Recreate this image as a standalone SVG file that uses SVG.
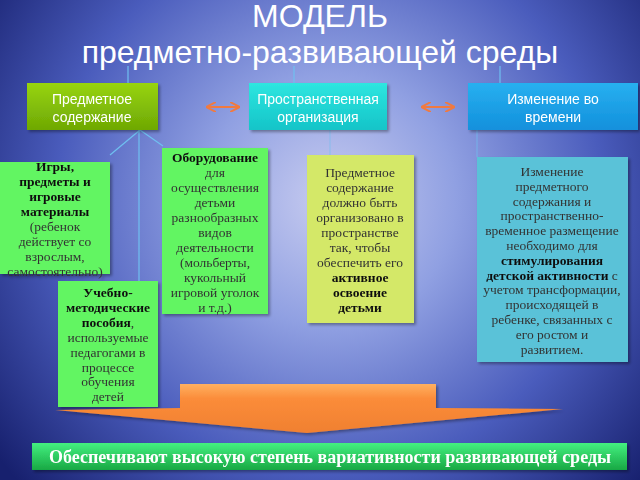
<svg xmlns="http://www.w3.org/2000/svg" width="640" height="480" viewBox="0 0 640 480">
<defs>
<radialGradient id="bg" cx="330" cy="200" r="420" gradientUnits="userSpaceOnUse">
<stop offset="0" stop-color="#c8ccf0"/>
<stop offset="0.3" stop-color="#90a0e2"/>
<stop offset="0.65" stop-color="#4a5cbc"/>
<stop offset="1" stop-color="#17206e"/>
</radialGradient>
<linearGradient id="g1" x1="0" y1="0" x2="0" y2="1"><stop offset="0" stop-color="#98d40e"/><stop offset="1" stop-color="#6ea804"/></linearGradient>
<linearGradient id="g2" x1="0" y1="0" x2="0" y2="1"><stop offset="0" stop-color="#2ee6e0"/><stop offset="1" stop-color="#14c4c8"/></linearGradient>
<linearGradient id="g3" x1="0" y1="0" x2="0" y2="1"><stop offset="0" stop-color="#28b0f0"/><stop offset="1" stop-color="#1290dc"/></linearGradient>
<linearGradient id="gb" x1="0" y1="0" x2="0" y2="1"><stop offset="0" stop-color="#44f080"/><stop offset="1" stop-color="#18a844"/></linearGradient>
<linearGradient id="go" x1="0" y1="0" x2="0" y2="1"><stop offset="0" stop-color="#ffb060"/><stop offset="0.3" stop-color="#fb8c3a"/><stop offset="1" stop-color="#f08030"/></linearGradient>
<filter id="sh" x="-10%" y="-10%" width="130%" height="130%"><feDropShadow dx="2" dy="2" stdDeviation="1.5" flood-color="#000" flood-opacity="0.35"/></filter>
<marker id="ah" viewBox="0 0 10 10" refX="9" refY="5" markerWidth="5" markerHeight="5" orient="auto-start-reverse"><path d="M0,0 L10,5 L0,10" fill="none" stroke="#f07a40" stroke-width="2"/></marker>
</defs>
<style>
.title{font-family:"Liberation Sans",Arial,sans-serif;fill:#fff;text-anchor:middle;}
.hd{font-family:"Liberation Sans",Arial,sans-serif;font-size:14px;fill:#fff;text-anchor:middle;}
.t{font-family:"Liberation Serif","Times New Roman",serif;font-size:13.5px;fill:#333;text-anchor:middle;}
.b{font-weight:bold;fill:#111;}
.ln{stroke:#6fc0f0;stroke-width:1.2;fill:none;}
.dbl{stroke:#f07a40;stroke-width:2;fill:none;}
</style>
<rect width="640" height="480" fill="url(#bg)"/>
<text class="title" x="320" y="27" font-size="32">МОДЕЛЬ</text>
<text class="title" x="320" y="63" font-size="32">предметно-развивающей среды</text>

<g id="connectors">
<line class="ln" x1="128" y1="66" x2="128" y2="83"/>
<line class="ln" x1="294" y1="66" x2="294" y2="83"/>
<line class="ln" x1="500" y1="66" x2="500" y2="83"/>
<line class="ln" x1="140" y1="130" x2="110" y2="155"/>
<line class="ln" x1="140" y1="130" x2="163" y2="146"/>
<line class="ln" x1="139" y1="130" x2="139" y2="281"/>
<line class="ln" x1="330" y1="130" x2="330" y2="155" opacity="0.5"/>
<line class="ln" x1="477" y1="130" x2="477" y2="157" opacity="0.6"/>
<line class="dbl" x1="207" y1="107" x2="239" y2="107" marker-start="url(#ah)" marker-end="url(#ah)"/>
<line class="dbl" x1="422" y1="107" x2="454" y2="107" marker-start="url(#ah)" marker-end="url(#ah)"/>
</g>

<g id="n1" filter="url(#sh)"><rect x="27" y="83" width="131" height="47" fill="url(#g1)"/>
<text class="hd" x="92" y="104">Предметное</text><text class="hd" x="92" y="122">содержание</text></g>
<g id="n2" filter="url(#sh)"><rect x="249" y="83" width="138" height="47" fill="url(#g2)"/>
<text class="hd" x="318" y="104">Пространственная</text><text class="hd" x="318" y="122">организация</text></g>
<g id="n3" filter="url(#sh)"><rect x="468" y="83" width="170" height="47" fill="url(#g3)"/>
<text class="hd" x="553" y="104">Изменение во</text><text class="hd" x="553" y="122">времени</text></g>

<g id="n4" filter="url(#sh)"><rect x="0" y="162" width="110" height="112" fill="#62f562"/>
<text class="t" x="55" y="171"><tspan class="b">Игры,</tspan><tspan class="b" x="55" dy="15">предметы и</tspan><tspan class="b" x="55" dy="15">игровые</tspan><tspan class="b" x="55" dy="15">материалы</tspan><tspan x="55" dy="15">(ребенок</tspan><tspan x="55" dy="15">действует со</tspan><tspan x="55" dy="15">взрослым,</tspan><tspan x="55" dy="15">самостоятельно)</tspan></text></g>

<g id="n5" filter="url(#sh)"><rect x="162" y="148" width="106" height="166" fill="#62f562"/>
<text class="t" x="215" y="162"><tspan class="b">Оборудование</tspan><tspan x="215" dy="15">для</tspan><tspan x="215" dy="15">осуществления</tspan><tspan x="215" dy="15">детьми</tspan><tspan x="215" dy="15">разнообразных</tspan><tspan x="215" dy="15">видов</tspan><tspan x="215" dy="15">деятельности</tspan><tspan x="215" dy="15">(мольберты,</tspan><tspan x="215" dy="15">кукольный</tspan><tspan x="215" dy="15">игровой уголок</tspan><tspan x="215" dy="15">и т.д.)</tspan></text></g>

<g id="n6" filter="url(#sh)"><rect x="58" y="281" width="100" height="126" fill="#62f562"/>
<text class="t" x="108" y="297"><tspan class="b">Учебно-</tspan><tspan class="b" x="108" dy="14.9">методические</tspan><tspan x="108" dy="14.9"><tspan class="b">пособия</tspan>,</tspan><tspan x="108" dy="14.9">используемые</tspan><tspan x="108" dy="14.9">педагогами в</tspan><tspan x="108" dy="14.9">процессе</tspan><tspan x="108" dy="14.9">обучения</tspan><tspan x="108" dy="14.9">детей</tspan></text></g>

<g id="n7" filter="url(#sh)"><rect x="307" y="155" width="107" height="168" fill="#d4e868"/>
<text class="t" x="360" y="177"><tspan>Предметное</tspan><tspan x="360" dy="15">содержание</tspan><tspan x="360" dy="15">должно быть</tspan><tspan x="360" dy="15">организовано в</tspan><tspan x="360" dy="15">пространстве</tspan><tspan x="360" dy="15">так, чтобы</tspan><tspan x="360" dy="15">обеспечить его</tspan><tspan class="b" x="360" dy="15">активное</tspan><tspan class="b" x="360" dy="15">освоение</tspan><tspan class="b" x="360" dy="15">детьми</tspan></text></g>

<g id="n8" filter="url(#sh)"><rect x="477" y="157" width="151" height="205" fill="#5ac2d8"/>
<text class="t" x="552" y="176"><tspan>Изменение</tspan><tspan x="552" dy="14.8">предметного</tspan><tspan x="552" dy="14.8">содержания и</tspan><tspan x="552" dy="14.8">пространственно-</tspan><tspan x="552" dy="14.8">временное размещение</tspan><tspan x="552" dy="14.8">необходимо для</tspan><tspan class="b" x="552" dy="14.8">стимулирования</tspan><tspan x="552" dy="14.8"><tspan class="b">детской активности</tspan> с</tspan><tspan x="552" dy="14.8">учетом трансформации,</tspan><tspan x="552" dy="14.8">происходящей в</tspan><tspan x="552" dy="14.8">ребенке, связанных с</tspan><tspan x="552" dy="14.8">его ростом и</tspan><tspan x="552" dy="14.8">развитием.</tspan></text></g>

<g id="arrow" filter="url(#sh)"><path d="M55,410 L180,408 L180,384 L436,384 L436,408 L563,409 L307,433 Z" fill="url(#go)"/></g>

<g id="banner" filter="url(#sh)"><rect x="32" y="443" width="595" height="27" fill="url(#gb)"/>
<text x="330" y="463" font-family="'Liberation Serif','Times New Roman',serif" font-weight="bold" font-size="18" fill="#fff" text-anchor="middle">Обеспечивают высокую степень вариативности развивающей среды</text></g>
</svg>
